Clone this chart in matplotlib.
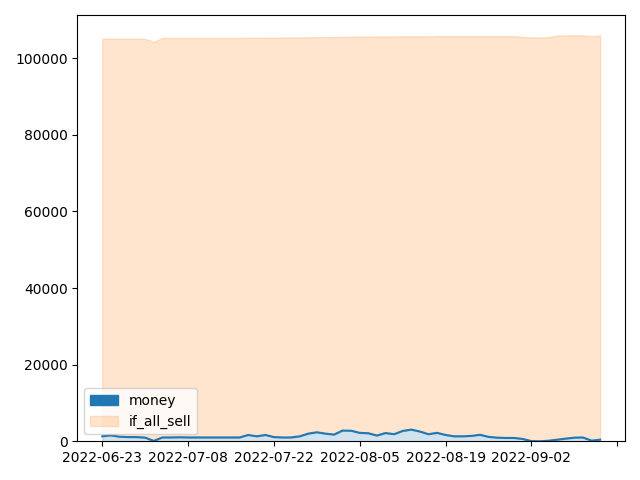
import numpy as np
import pandas as pd
import matplotlib
matplotlib.use("Agg")
import matplotlib.pyplot as plt
from matplotlib.patches import Patch

# trading days (US market, July 4 and Labor Day closed)
days = pd.bdate_range("2022-06-23", "2022-09-15")
days = days[~days.isin(pd.to_datetime(["2022-07-04", "2022-09-05"]))]
dates = [d.strftime("%Y-%m-%d") for d in days]

money = [1300, 1550, 1200, 1100, 1100, 960, 100, 1000, 1000, 1050,
         1000, 1000, 1000, 1000, 1000, 1000, 1000, 1650, 1300, 1650,
         1100, 1000, 1000, 1300, 2000, 2350, 2000, 1750, 2800, 2750,
         2200, 2100, 1500, 2150, 1850, 2700, 3050, 2550, 1850, 2200,
         1650, 1300, 1300, 1400, 1700, 1150, 950, 870, 870, 600,
         50, 0, 150, 420, 700, 950, 1000, 170, 430]

if_all_sell = [105100, 105100, 105100, 105100, 105100, 105050, 104300, 105300, 105300, 105300,
               105300, 105300, 105300, 105300, 105300, 105300, 105300, 105350, 105350, 105400,
               105400, 105400, 105450, 105450, 105500, 105500, 105550, 105550, 105600, 105600,
               105650, 105650, 105700, 105700, 105700, 105750, 105750, 105750, 105750, 105800,
               105800, 105800, 105800, 105800, 105800, 105800, 105800, 105800, 105800, 105550,
               105450, 105450, 105500, 105950, 106000, 106000, 106000, 105750, 106000]

x = np.arange(len(dates))

fig, ax = plt.subplots(figsize=(6.4, 4.8), dpi=100)
ax.fill_between(x, money, if_all_sell, color="C1", alpha=0.2)
ax.fill_between(x, 0, money, color="C0", alpha=0.2)
ax.plot(x, money, color="C0")

ticks = np.arange(0, 61, 10)
ax.set_xticks(ticks)
ax.set_xticklabels([dates[t] if t < len(dates) else "" for t in ticks])
ax.set_ylim(bottom=0)

handles = [Patch(facecolor="C0", edgecolor="C0"),
           Patch(facecolor="C1", edgecolor="C1", alpha=0.2)]
ax.legend(handles, ["money", "if_all_sell"], loc="lower left")

plt.tight_layout()
plt.savefig("out.png")
